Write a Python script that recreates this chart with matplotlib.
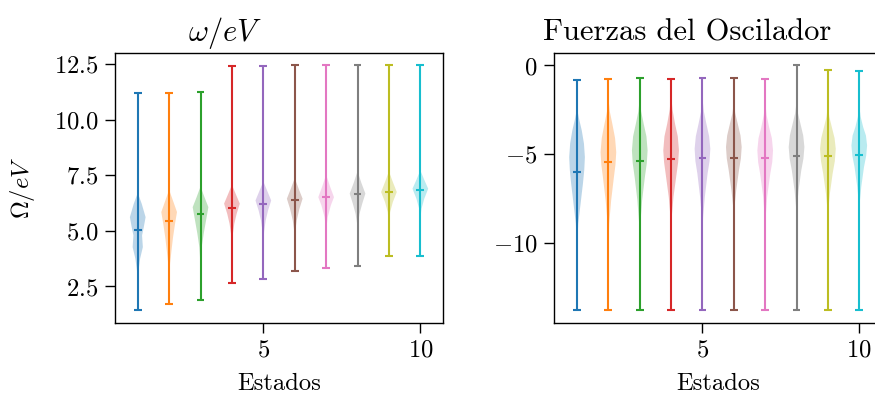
import numpy as np
import matplotlib
matplotlib.use("Agg")
import matplotlib.pyplot as plt

plt.rcParams['font.family'] = 'serif'
plt.rcParams['font.serif'] = ['cmr10']
plt.rcParams['mathtext.fontset'] = 'cm'
plt.rcParams['axes.formatter.use_mathtext'] = True
plt.rcParams['font.size'] = 17.7

estados = np.arange(1, 11)

# omega/eV: extremos, medias y perfil de densidad (valor, ancho relativo)
omega_min = [1.42, 1.69, 1.87, 2.67, 2.85, 3.19, 3.34, 3.40, 3.88, 3.89]
omega_max = [11.21, 11.23, 11.25, 12.42, 12.42, 12.45, 12.45, 12.45, 12.45, 12.45]
omega_media = [5.05, 5.46, 5.77, 6.03, 6.23, 6.39, 6.52, 6.64, 6.75, 6.86]
omega_perfil = [
    [(2.77, 0.03), (3.22, 0.1), (3.75, 0.3), (4.27, 0.65), (4.8, 0.55), (5.17, 0.77), (5.62, 1.0), (6.23, 0.5), (6.68, 0.03)],
    [(2.9, 0.04), (3.54, 0.12), (4.12, 0.3), (4.72, 0.5), (5.32, 0.75), (5.85, 1.0), (6.35, 0.5), (6.82, 0.03)],
    [(3.7, 0.05), (4.27, 0.15), (4.87, 0.4), (5.47, 0.7), (6.07, 1.0), (6.52, 0.5), (6.97, 0.03)],
    [(4.27, 0.03), (4.87, 0.12), (5.32, 0.3), (5.77, 0.6), (6.23, 1.0), (6.65, 0.5), (7.05, 0.03)],
    [(4.6, 0.03), (4.97, 0.1), (5.47, 0.3), (5.92, 0.6), (6.37, 1.0), (6.8, 0.5), (7.2, 0.03)],
    [(4.95, 0.05), (5.47, 0.25), (6.0, 0.6), (6.45, 1.0), (6.9, 0.5), (7.35, 0.03)],
    [(5.17, 0.05), (5.62, 0.2), (6.15, 0.6), (6.52, 1.0), (7.0, 0.5), (7.5, 0.03)],
    [(5.32, 0.05), (5.77, 0.25), (6.23, 0.6), (6.68, 1.0), (7.15, 0.5), (7.65, 0.03)],
    [(5.4, 0.04), (5.85, 0.15), (6.3, 0.5), (6.75, 1.0), (7.2, 0.5), (7.65, 0.03)],
    [(5.62, 0.03), (6.0, 0.15), (6.45, 0.5), (6.9, 1.0), (7.3, 0.5), (7.7, 0.03)],
]

# Fuerzas del oscilador
fuerza_min = [-13.81] * 10
fuerza_max = [-0.81, -0.75, -0.71, -0.79, -0.73, -0.73, -0.77, 0.0, -0.28, -0.32]
fuerza_media = [-5.98, -5.47, -5.39, -5.28, -5.24, -5.19, -5.19, -5.13, -5.11, -5.07]
fuerza_perfil = [
    [(-10.05, 0.04), (-8.92, 0.15), (-7.8, 0.45), (-6.67, 0.75), (-5.9, 0.92), (-5.17, 1.0), (-4.4, 0.88), (-3.66, 0.6), (-3.0, 0.25), (-2.54, 0.05)],
    [(-10.05, 0.03), (-8.92, 0.1), (-7.61, 0.35), (-6.3, 0.7), (-5.6, 0.9), (-4.89, 1.0), (-4.1, 0.85), (-3.29, 0.5), (-2.6, 0.18), (-1.97, 0.03)],
    [(-9.8, 0.02), (-8.92, 0.08), (-7.61, 0.3), (-6.3, 0.65), (-5.5, 0.9), (-4.79, 1.0), (-4.0, 0.85), (-3.29, 0.5), (-2.6, 0.18), (-1.97, 0.03)],
    [(-9.5, 0.02), (-8.55, 0.08), (-7.42, 0.3), (-6.1, 0.7), (-5.45, 0.9), (-4.79, 1.0), (-4.0, 0.85), (-3.29, 0.5), (-2.5, 0.18), (-1.78, 0.03)],
    [(-9.5, 0.02), (-8.55, 0.08), (-7.42, 0.3), (-6.1, 0.65), (-5.4, 0.9), (-4.7, 1.0), (-4.0, 0.85), (-3.29, 0.5), (-2.6, 0.18), (-1.97, 0.03)],
    [(-9.0, 0.02), (-7.99, 0.08), (-7.05, 0.3), (-5.92, 0.65), (-5.25, 0.9), (-4.6, 1.0), (-3.95, 0.85), (-3.29, 0.5), (-2.7, 0.18), (-2.16, 0.03)],
    [(-9.5, 0.02), (-8.55, 0.06), (-7.42, 0.25), (-6.1, 0.65), (-5.45, 0.9), (-4.79, 1.0), (-4.1, 0.85), (-3.48, 0.5), (-2.8, 0.18), (-2.16, 0.03)],
    [(-9.0, 0.02), (-7.99, 0.06), (-7.05, 0.25), (-5.92, 0.6), (-5.25, 0.88), (-4.6, 1.0), (-3.95, 0.85), (-3.29, 0.5), (-2.7, 0.18), (-2.16, 0.03)],
    [(-9.2, 0.02), (-8.17, 0.05), (-7.23, 0.25), (-6.1, 0.6), (-5.4, 0.88), (-4.7, 1.0), (-4.1, 0.85), (-3.48, 0.5), (-2.9, 0.18), (-2.35, 0.03)],
    [(-8.8, 0.02), (-7.8, 0.05), (-6.86, 0.25), (-5.73, 0.6), (-5.1, 0.88), (-4.51, 1.0), (-3.95, 0.85), (-3.48, 0.5), (-2.9, 0.18), (-2.35, 0.03)],
]


# Construye las estadisticas que usa Axes.violin
def make_stats(vmin, vmax, vmean, perfil):
    coords = [vmin] + [p[0] for p in perfil] + [vmax]
    vals = [0.0] + [p[1] for p in perfil] + [0.0]
    return {'coords': np.array(coords), 'vals': np.array(vals),
            'mean': vmean, 'median': vmean, 'min': vmin, 'max': vmax,
            'quantiles': []}


def draw_violins(ax, mins, maxs, means, perfiles):
    for i in range(len(estados)):
        st = make_stats(mins[i], maxs[i], means[i], perfiles[i])
        # una llamada por violin, asi cada uno toma el siguiente color del ciclo
        ax.violin([st], positions=[estados[i]], widths=0.5,
                  showmeans=True, showextrema=True, showmedians=False)


def style_axis(ax):
    ax.tick_params(length=7, width=1, pad=5)
    for s in ax.spines.values():
        s.set_linewidth(1)
    ax.set_xticks([5, 10])


def main():
    fig = plt.figure(figsize=(8.75, 3.94), dpi=100)
    ax1 = fig.add_axes([0.1314, 0.181, 0.375, 0.684])
    ax2 = fig.add_axes([0.6335, 0.181, 0.3745, 0.684])

    draw_violins(ax1, omega_min, omega_max, omega_media, omega_perfil)
    draw_violins(ax2, fuerza_min, fuerza_max, fuerza_media, fuerza_perfil)

    style_axis(ax1)
    style_axis(ax2)
    ax1.set_yticks([2.5, 5.0, 7.5, 10.0, 12.5])
    ax2.set_yticks([0, -5, -10])

    ax1.set_title(r'$\omega/eV$', x=0.335, pad=9, fontsize=22)
    ax2.set_title('Fuerzas del Oscilador', x=0.405, pad=9, fontsize=22)
    ax1.set_ylabel(r'$\Omega/eV$', labelpad=12)
    ax1.set_xlabel('Estados', labelpad=8)
    ax2.set_xlabel('Estados', labelpad=8)

    fig.savefig('out.png', dpi=100)


if __name__ == "__main__":
    main()
